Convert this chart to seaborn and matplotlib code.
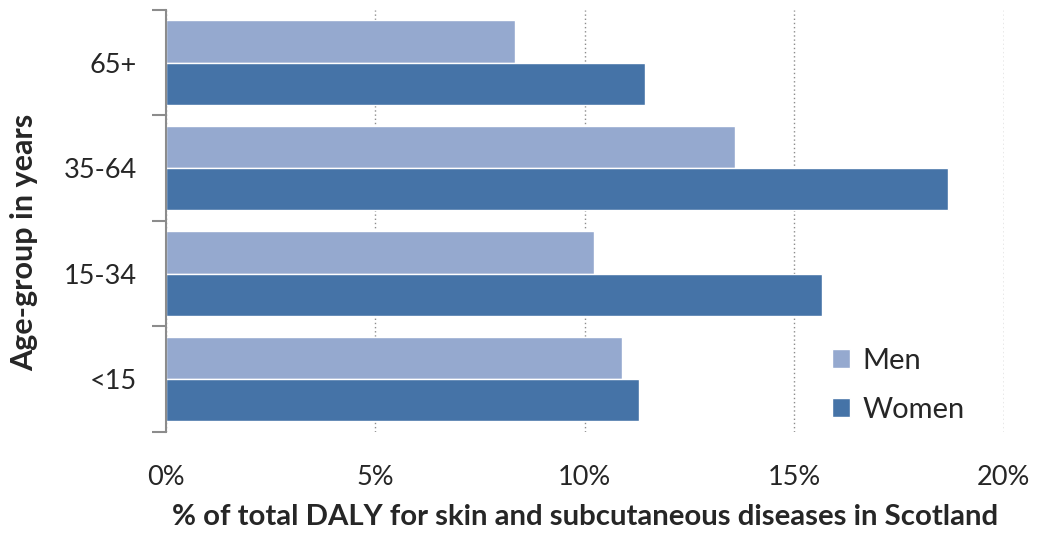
import pandas as pd
import numpy as np
import matplotlib.pyplot as plt
import seaborn as sns
from matplotlib.ticker import FixedLocator, PercentFormatter

# values (% of total DALY)
age_groups = ['65+', '35-64', '15-34', '<15']
men = [8.33, 13.58, 10.21, 10.88]
women = [11.43, 18.66, 15.66, 11.29]

df = pd.DataFrame({
    'Age': age_groups * 2,
    'Sex': ['Men'] * len(age_groups) + ['Women'] * len(age_groups),
    'Value': men + women,
})

sns.set_style('white')
plt.rcParams['font.family'] = ['Lato', 'DejaVu Sans']

fig = plt.figure(figsize=(10.38, 5.33), dpi=100)
ax = fig.add_axes([0.16, 0.1895, 0.807, 0.792])

sns.barplot(data=df, x='Value', y='Age', hue='Sex', order=age_groups,
            hue_order=['Men', 'Women'], palette=['#95A9CF', '#4573A7'],
            orient='h', width=0.8, saturation=1, ax=ax)

ax.set_xlim(0, 20)
ax.set_ylim(len(age_groups) - 0.5, -0.5)
ax.xaxis.set_major_locator(FixedLocator([0, 5, 10, 15, 20]))
ax.xaxis.set_major_formatter(PercentFormatter(decimals=0))
ax.grid(axis='x', linestyle=(0, (1, 2)), color='#8c8c8c', linewidth=1)
ax.set_axisbelow(True)

for s in ['top', 'right', 'bottom']:
    ax.spines[s].set_visible(False)
ax.spines['left'].set_color('#8c8c8c')
ax.spines['left'].set_linewidth(1.5)

ax.tick_params(axis='x', length=0, pad=24, labelsize=19.5)
ax.tick_params(axis='y', which='major', left=False, length=0, pad=21, labelsize=19.5)
ax.yaxis.set_minor_locator(FixedLocator(np.arange(-0.5, len(age_groups), 1)))
ax.tick_params(axis='y', which='minor', left=True, length=10, width=1.5,
               color='#8c8c8c', direction='out')

ax.set_xlabel('% of total DALY for skin and subcutaneous diseases in Scotland',
              fontsize=21.2, fontweight='bold', labelpad=10)
ax.set_ylabel('Age-group in years', fontsize=22, fontweight='bold')
ax.yaxis.set_label_coords(-0.153, 0.45)

leg = ax.legend(loc='lower right', bbox_to_anchor=(0.985, -0.04), frameon=False,
                fontsize=21, handlelength=0.6, handleheight=0.6,
                labelspacing=0.78, handletextpad=0.45)

fig.savefig('out.png', dpi=100)
